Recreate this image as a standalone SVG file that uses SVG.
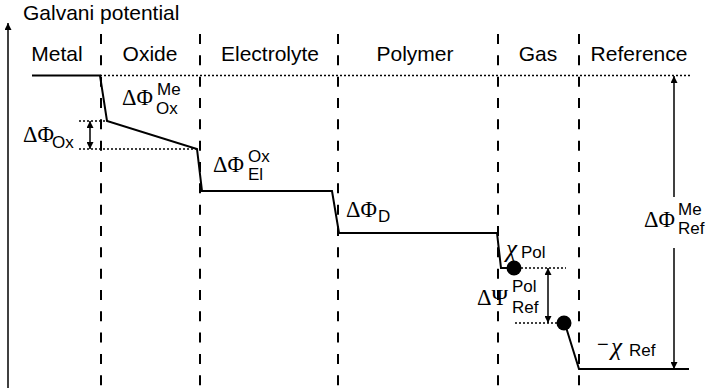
<svg xmlns="http://www.w3.org/2000/svg" width="708" height="388" viewBox="0 0 708 388">
<defs>
<marker id="ah" viewBox="0 0 10 10" refX="10" refY="5" markerWidth="10" markerHeight="7" markerUnits="userSpaceOnUse" orient="auto-start-reverse">
<path d="M0,0 L10,5 L0,10 Z" fill="#000"/>
</marker>
<style>
.sans{font-family:"Liberation Sans",Arial,sans-serif;fill:#000}
.lab{font-size:21px}
.ser{font-family:"Liberation Serif","Times New Roman",serif;font-size:22.5px;fill:#000}
.chi{font-family:"Liberation Serif","Times New Roman",serif;font-size:25px;font-style:italic;fill:#000}
.sub{font-family:"Liberation Sans",Arial,sans-serif;font-size:17px;fill:#000}
.dash{stroke:#000;stroke-width:2;stroke-dasharray:10 11.33;fill:none}
.dot{stroke:#000;stroke-width:1.3;stroke-dasharray:2 2;fill:none}
.solid{stroke:#000;stroke-width:2;fill:none}
.arr{stroke:#000;stroke-width:1.5;fill:none}
</style>
</defs>
<rect width="708" height="388" fill="#fff"/>

<g id="axis">
<line x1="8" y1="388" x2="8" y2="23" class="arr" marker-end="url(#ah)"/>
<text x="23" y="20" class="sans lab">Galvani potential</text>
</g>

<g id="boundaries">
<line x1="101" y1="34" x2="101" y2="388" class="dash"/>
<line x1="200" y1="34" x2="200" y2="388" class="dash"/>
<line x1="338" y1="34" x2="338" y2="388" class="dash"/>
<line x1="498" y1="34" x2="498" y2="388" class="dash"/>
<line x1="579" y1="34" x2="579" y2="388" class="dash"/>
</g>

<g id="columns" class="sans lab" text-anchor="middle">
<text x="57" y="61">Metal</text>
<text x="150" y="61">Oxide</text>
<text x="270" y="61">Electrolyte</text>
<text x="415" y="61">Polymer</text>
<text x="538" y="61">Gas</text>
<text x="639" y="61">Reference</text>
</g>

<g id="levels">
<path class="solid" d="M32,75.5 H100 L107,121 L197,149 L202,191 H332 L339,233 H497 L501,268 H514"/>
<path class="solid" d="M565,324 L579,369 H689"/>
<circle cx="514" cy="268" r="7.5" fill="#000"/>
<circle cx="564" cy="323" r="7.5" fill="#000"/>
</g>

<g id="guides">
<line x1="100" y1="75.5" x2="690" y2="75.5" class="dot"/>
<line x1="79" y1="121" x2="107" y2="121" class="dot"/>
<line x1="79" y1="149" x2="197" y2="149" class="dot"/>
<line x1="521" y1="268" x2="566" y2="268" class="dot"/>
<line x1="515" y1="323" x2="557" y2="323" class="dot"/>
</g>

<g id="connectors">
<line x1="90" y1="121" x2="90" y2="149" class="arr" marker-start="url(#ah)" marker-end="url(#ah)"/>
<line x1="548" y1="268" x2="548" y2="323" class="arr" marker-start="url(#ah)" marker-end="url(#ah)"/>
<line x1="674" y1="197" x2="674" y2="76" class="arr" marker-end="url(#ah)"/>
<line x1="674" y1="248" x2="674" y2="369" class="arr" marker-end="url(#ah)"/>
</g>

<g id="labels">
<text x="122" y="105" class="ser">ΔΦ</text>
<text x="157" y="95" class="sub">Me</text>
<text x="156" y="114" class="sub">Ox</text>

<text x="23" y="142" class="ser">ΔΦ</text>
<text x="52" y="148" class="sub">Ox</text>

<text x="213" y="172" class="ser">ΔΦ</text>
<text x="248" y="162" class="sub">Ox</text>
<text x="248" y="180" class="sub">El</text>

<text x="346" y="217" class="ser">ΔΦ</text>
<text x="378" y="222" class="sub">D</text>

<text x="644" y="227" class="ser">ΔΦ</text>
<text x="678" y="215" class="sub">Me</text>
<text x="678" y="234" class="sub">Ref</text>

<text x="506" y="257" class="chi">χ</text>
<text x="521" y="258" class="sub">Pol</text>

<text x="477" y="305" class="ser">ΔΨ</text>
<text x="512" y="292" class="sub">Pol</text>
<text x="512" y="313" class="sub">Ref</text>

<text x="597" y="351" class="sans" font-size="20">−</text>
<text x="611" y="355" class="chi">χ</text>
<text x="629" y="356" class="sub">Ref</text>
</g>
</svg>
